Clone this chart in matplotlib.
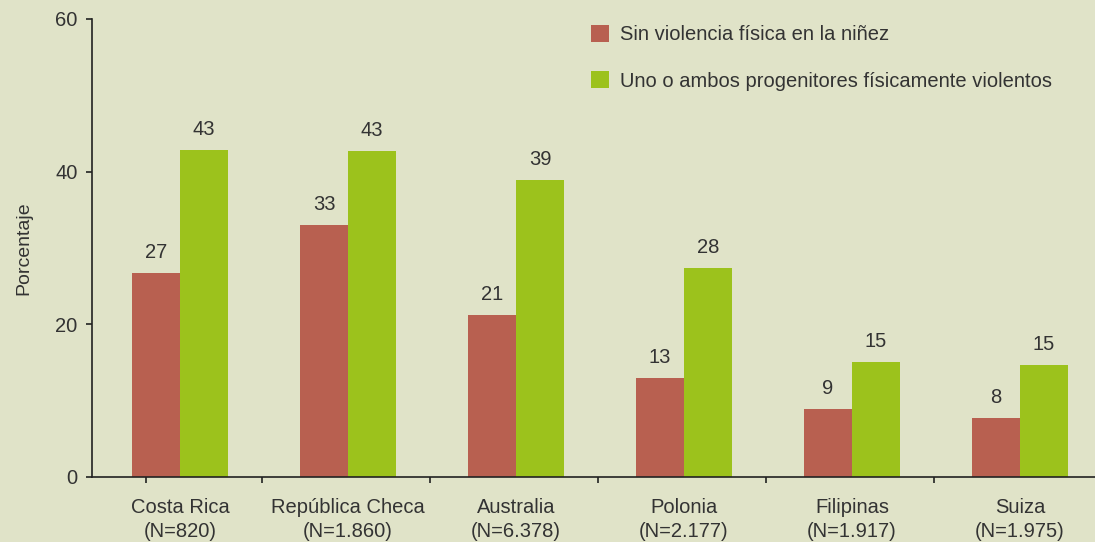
import numpy as np
import matplotlib.pyplot as plt

countries = ['Costa Rica', 'República Checa', 'Australia', 'Polonia', 'Filipinas', 'Suiza']
sizes = ['820', '1.860', '6.378', '2.177', '1.917', '1.975']
sin_violencia = [26.7, 33.0, 21.2, 13.0, 8.9, 7.7]
violentos = [42.8, 42.7, 38.9, 27.4, 15.1, 14.7]
labels_sin = [27, 33, 21, 13, 9, 8]
labels_viol = [43, 43, 39, 28, 15, 15]

bg = '#e0e3c8'
red = '#b86050'
green = '#9cc21c'
txt = '#333333'
fs = 14.5

plt.rcParams['font.family'] = ['Liberation Sans', 'DejaVu Sans']

fig = plt.figure(figsize=(10.95, 5.42), dpi=100, facecolor=bg)
ax = fig.add_axes([92 / 1095, 1 - 477 / 542, (1095 - 92) / 1095, (477 - 19) / 542], facecolor=bg)

x = np.arange(len(countries))
w = 0.285
b1 = ax.bar(x - w / 2, sin_violencia, w, color=red, label='Sin violencia física en la niñez')
b2 = ax.bar(x + w / 2, violentos, w, color=green, label='Uno o ambos progenitores físicamente violentos')

for bars, labs in ((b1, labels_sin), (b2, labels_viol)):
    for bar, lab in zip(bars, labs):
        ax.annotate(str(lab), (bar.get_x() + bar.get_width() / 2, bar.get_height()),
                    xytext=(0, 8), textcoords='offset points', ha='center', va='bottom',
                    fontsize=fs, color=txt)

ax.set_ylim(0, 60)
ax.set_xlim(-0.524, 5.446)
ax.set_yticks([0, 20, 40, 60])
ax.set_xticks(x)
ax.set_xticklabels([f'{c}\n(N={n})' for c, n in zip(countries, sizes)], fontsize=fs, color=txt,
                   linespacing=1.35)
ax.set_xticks([-0.2, 0.49, 1.49, 2.49, 3.49, 4.49], minor=True)
ax.tick_params(axis='x', which='major', length=0, pad=15)
ax.tick_params(axis='x', which='minor', length=4.5, width=1.2, color='#222222', direction='out')
ax.tick_params(axis='y', length=4.5, width=1.2, color='#222222', labelsize=fs, labelcolor=txt, pad=6)
for s in ('top', 'right'):
    ax.spines[s].set_visible(False)
for s in ('left', 'bottom'):
    ax.spines[s].set_color('#222222')
    ax.spines[s].set_linewidth(1.2)
ax.set_ylabel('Porcentaje', fontsize=14, color=txt, labelpad=16)

fig.legend(loc='upper left', bbox_to_anchor=(591 / 1095, 1 - 25 / 542), frameon=False, fontsize=fs,
           handlelength=0.9, handleheight=0.9, handletextpad=0.55, labelspacing=1.35,
           borderpad=0, borderaxespad=0, labelcolor=txt)

fig.savefig('out.png', dpi=100, facecolor=bg)
